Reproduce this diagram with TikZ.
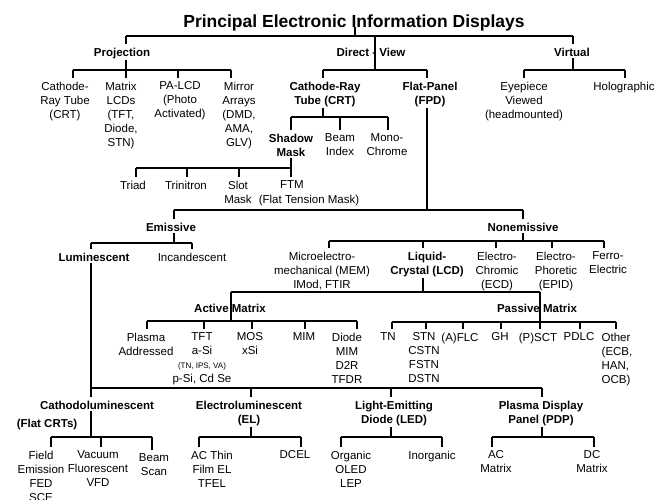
\documentclass[tikz,border=0pt]{standalone}
\usepackage{fontspec}
\setmainfont{Liberation Sans}
\usepackage{tikz}
\tikzset{
  wire/.style={draw=black, line width=1.6pt},
  drop/.style={wire, shorten >=2.5pt},
  lab/.style={anchor=north, align=center, inner xsep=0pt, inner ysep=1.5pt, font=\fontsize{11.5}{14}\selectfont},
  labb/.style={lab, font=\fontsize{11.5}{14}\selectfont\bfseries},
  labs/.style={font=\fontsize{8}{10}\selectfont},
  ttl/.style={anchor=base, inner sep=0pt, font=\fontsize{17.5}{20}\selectfont\bfseries},
}
\begin{document}
\begin{tikzpicture}[x=1pt,y=-1pt]
  \useasboundingbox (0,0) rectangle (663,499);
  % bracket points
  \coordinate (t-title) at (355,36);
  \coordinate (t-proj) at (126,36);
  \coordinate (t-dv) at (375,36);
  \coordinate (t-virt) at (573,36);
  \coordinate (b-proj) at (126,70);
  \coordinate (d-crtp) at (73,70);
  \coordinate (d-pa) at (178,70);
  \coordinate (d-mirr) at (231,70);
  \coordinate (b-dv) at (375,70);
  \coordinate (d-crt) at (323,70);
  \coordinate (d-fpd) at (427,70);
  \coordinate (b-virt) at (573,70);
  \coordinate (d-eye) at (524,70);
  \coordinate (d-holo) at (625,70);
  \coordinate (b-crt) at (323,117);
  \coordinate (d-smask) at (291,117);
  \coordinate (d-bidx) at (340,117);
  \coordinate (d-mono) at (388,117);
  \coordinate (b-sm) at (291,168);
  \coordinate (d-triad) at (136,168);
  \coordinate (d-trin) at (187,168);
  \coordinate (d-slot) at (239,168);
  \coordinate (b-fpd) at (427,210);
  \coordinate (d-emis) at (174,210);
  \coordinate (d-nonem) at (523,210);
  \coordinate (b-emis) at (174,243);
  \coordinate (d-lumi) at (91,243);
  \coordinate (d-incan) at (192,243);
  \coordinate (b-nonem) at (523,241);
  \coordinate (d-mem) at (329,241);
  \coordinate (d-lcd) at (423,241);
  \coordinate (d-ecd) at (496,241);
  \coordinate (d-epid) at (552,241);
  \coordinate (d-ferro) at (604,241);
  \coordinate (b-lcd) at (423,292);
  \coordinate (d-am) at (231,292);
  \coordinate (d-pm) at (540,292);
  \coordinate (b-am) at (231,321);
  \coordinate (d-plasa) at (147,321);
  \coordinate (d-tft) at (204,321);
  \coordinate (d-mos) at (252,321);
  \coordinate (d-mim) at (305,321);
  \coordinate (d-diode) at (357,321);
  \coordinate (b-pm) at (540,322);
  \coordinate (d-tn) at (392,322);
  \coordinate (d-stn) at (426,322);
  \coordinate (d-flc) at (463,322);
  \coordinate (d-gh) at (501,322);
  \coordinate (d-pdlc) at (580,322);
  \coordinate (d-other) at (616,322);
  \coordinate (b-lumi) at (91,388);
  \coordinate (d-el) at (251,388);
  \coordinate (d-led) at (391,388);
  \coordinate (d-pdp) at (542,388);
  \coordinate (b-cath) at (91,437);
  \coordinate (d-field) at (51,437);
  \coordinate (d-vac) at (101,437);
  \coordinate (d-bscan) at (152,437);
  \coordinate (b-el) at (251,437);
  \coordinate (d-ac) at (199,437);
  \coordinate (d-dcel) at (301,437);
  \coordinate (b-led) at (391,437);
  \coordinate (d-org) at (341,437);
  \coordinate (d-inorg) at (442,437);
  \coordinate (b-pdp) at (542,437);
  \coordinate (d-acm) at (492,437);
  \coordinate (d-dcm) at (594,437);

  % labels
  \node[ttl] (title) at (354,27) {Principal Electronic Information Displays};
  \node[labb] (proj) at (122,46) {Projection};
  \node[labb] (dv) at (371,46) {Direct - View};
  \node[labb] (virt) at (572,46) {Virtual};
  \node[lab] (crtp) at (65,80) {Cathode-\\Ray Tube\\(CRT)};
  \node[lab] (mlcd) at (121,80) {Matrix\\LCDs\\(TFT,\\Diode,\\STN)};
  \node[lab] (palcd) at (180,80) {PA-LCD\\(Photo\\Activated)};
  \node[lab] (mirr) at (239,80) {Mirror\\Arrays\\(DMD,\\AMA,\\GLV)};
  \node[labb] (crt) at (325,80) {Cathode-Ray\\Tube (CRT)};
  \node[labb] (fpd) at (430,80) {Flat-Panel\\(FPD)};
  \node[lab] (eye) at (524,80) {Eyepiece\\Viewed\\(headmounted)};
  \node[lab] (holo) at (624,80) {Holographic};
  \node[labb] (smask) at (291,132) {Shadow\\Mask};
  \node[lab] (bidx) at (340,132) {Beam\\Index};
  \node[lab] (mono) at (387,132) {Mono-\\Chrome};
  \node[lab] (triad) at (133,179) {Triad};
  \node[lab] (trin) at (186,179) {Trinitron};
  \node[lab] (slot) at (238,179) {Slot\\Mask};
  \node[lab] (ftm) at (292,179) {FTM};
  \node[lab] (ftmx) at (309,193) {(Flat Tension Mask)};
  \node[labb] (emis) at (171,221) {Emissive};
  \node[labb] (nonem) at (523,221) {Nonemissive};
  \node[labb] (lumi) at (94,251) {Luminescent};
  \node[lab] (incan) at (192,251) {Incandescent};
  \node[lab] (mem) at (322,250) {Microelectro-\\mechanical (MEM)\\IMod, FTIR};
  \node[labb] (lcd) at (427,250) {Liquid-\\Crystal (LCD)};
  \node[lab] (ecd) at (497,250) {Electro-\\Chromic\\(ECD)};
  \node[lab] (epid) at (556,250) {Electro-\\Phoretic\\(EPID)};
  \node[lab] (ferro) at (608,250) {Ferro-\\Electric};
  \node[labb] (am) at (230,302) {Active Matrix};
  \node[labb] (pm) at (537,302) {Passive Matrix};
  \node[lab] (plasa) at (146,331) {Plasma\\Addressed};
  \node[lab] (tft) at (202,331) {TFT\\a-Si\\{\fontsize{8}{10}\selectfont(TN, IPS, VA)}\\p-Si, Cd Se};
  \node[lab] (mos) at (250,331) {MOS\\xSi};
  \node[lab] (mim) at (304,331) {MIM};
  \node[lab] (diode) at (347,331) {Diode\\MIM\\D2R\\TFDR};
  \node[lab] (tn) at (388,331) {TN};
  \node[lab] (stn) at (424,331) {STN\\CSTN\\FSTN\\DSTN};
  \node[lab] (flc) at (460,331) {(A)FLC};
  \node[lab] (gh) at (500,331) {GH};
  \node[lab] (psct) at (538,331) {(P)SCT};
  \node[lab] (pdlc) at (579,331) {PDLC};
  \node[lab, align=left] (other) at (617,331) {Other\\(ECB,\\HAN,\\OCB)};
  \node[labb] (cath) at (97,399) {Cathodoluminescent};
  \node[labb] (flatcrt) at (47,417) {(Flat CRTs)};
  \node[labb] (el) at (249,399) {Electroluminescent\\(EL)};
  \node[labb] (led) at (394,399) {Light-Emitting\\Diode (LED)};
  \node[labb] (pdp) at (541,399) {Plasma Display\\Panel (PDP)};
  \node[lab] (field) at (41,449) {Field\\Emission\\FED\\SCE};
  \node[lab] (vac) at (98,449) {Vacuum\\Fluorescent\\VFD};
  \node[lab] (bscan) at (154,452) {Beam\\Scan};
  \node[lab] (acthin) at (212,449) {AC Thin\\Film EL\\TFEL};
  \node[lab] (dcel) at (295,449) {DCEL};
  \node[lab] (org) at (351,449) {Organic\\OLED\\LEP};
  \node[lab] (inorg) at (432,449) {Inorganic};
  \node[lab] (acm) at (496,449) {AC\\Matrix};
  \node[lab] (dcm) at (592,449) {DC\\Matrix};

  % top level
  \draw[wire] (t-title |- title.base) -- (t-title);
  \draw[wire] (t-proj) -- (t-virt);
  \draw[drop] (t-proj) -- (t-proj |- proj.north);
  \draw[wire] (t-dv) -- (b-dv);
  \draw[drop] (t-virt) -- (t-virt |- virt.north);
  % projection
  \draw[wire] (b-proj |- proj.south) -- (b-proj);
  \draw[wire] (d-crtp) -- (d-mirr);
  \draw[drop] (d-crtp) -- (d-crtp |- crtp.north);
  \draw[drop] (b-proj) -- (b-proj |- mlcd.north);
  \draw[drop] (d-pa) -- (d-pa |- palcd.north);
  \draw[drop] (d-mirr) -- (d-mirr |- mirr.north);
  % direct view
  \draw[wire] (d-crt) -- (d-fpd);
  \draw[drop] (d-crt) -- (d-crt |- crt.north);
  \draw[drop] (d-fpd) -- (d-fpd |- fpd.north);
  % virtual
  \draw[wire] (b-virt |- virt.south) -- (b-virt);
  \draw[wire] (d-eye) -- (d-holo);
  \draw[drop] (d-eye) -- (d-eye |- eye.north);
  \draw[drop] (d-holo) -- (d-holo |- holo.north);
  % CRT
  \draw[wire] (b-crt |- crt.south) -- (b-crt);
  \draw[wire] (d-smask) -- (d-mono);
  \draw[drop] (d-smask) -- (d-smask |- smask.north);
  \draw[drop] (d-bidx) -- (d-bidx |- bidx.north);
  \draw[drop] (d-mono) -- (d-mono |- mono.north);
  % shadow mask
  \draw[wire] (b-sm |- smask.south) -- (b-sm);
  \draw[wire] (d-triad) -- (b-sm);
  \draw[drop] (d-triad) -- (d-triad |- triad.north);
  \draw[drop] (d-trin) -- (d-trin |- trin.north);
  \draw[drop] (d-slot) -- (d-slot |- slot.north);
  \draw[drop] (b-sm) -- (b-sm |- ftm.north);
  % flat panel
  \draw[wire] (b-fpd |- fpd.south) -- (b-fpd);
  \draw[wire] (d-emis) -- (d-nonem);
  \draw[drop] (d-emis) -- (d-emis |- emis.north);
  \draw[drop] (d-nonem) -- (d-nonem |- nonem.north);
  % emissive
  \draw[wire] (b-emis |- emis.south) -- (b-emis);
  \draw[wire] (d-lumi) -- (d-incan);
  \draw[drop] (d-lumi) -- (d-lumi |- lumi.north);
  \draw[drop] (d-incan) -- (d-incan |- incan.north);
  % nonemissive
  \draw[wire] (b-nonem |- nonem.south) -- (b-nonem);
  \draw[wire] (d-mem) -- (d-ferro);
  \draw[drop] (d-mem) -- (d-mem |- mem.north);
  \draw[drop] (d-lcd) -- (d-lcd |- lcd.north);
  \draw[drop] (d-ecd) -- (d-ecd |- ecd.north);
  \draw[drop] (d-epid) -- (d-epid |- epid.north);
  \draw[drop] (d-ferro) -- (d-ferro |- ferro.north);
  % LCD
  \draw[wire] (b-lcd |- lcd.south) -- (b-lcd);
  \draw[wire] (d-am) -- (d-pm);
  \draw[wire] (d-am) -- (b-am);
  \draw[wire] (d-pm) -- (b-pm);
  % active matrix
  \draw[wire] (d-plasa) -- (d-diode);
  \draw[drop] (d-plasa) -- (d-plasa |- plasa.north);
  \draw[drop] (d-tft) -- (d-tft |- tft.north);
  \draw[drop] (d-mos) -- (d-mos |- mos.north);
  \draw[drop] (d-mim) -- (d-mim |- mim.north);
  \draw[drop] (d-diode) -- (d-diode |- diode.north);
  % passive matrix
  \draw[wire] (d-tn) -- (d-other);
  \draw[drop] (d-tn) -- (d-tn |- tn.north);
  \draw[drop] (d-stn) -- (d-stn |- stn.north);
  \draw[drop] (d-flc) -- (d-flc |- flc.north);
  \draw[drop] (d-gh) -- (d-gh |- gh.north);
  \draw[drop] (b-pm) -- (b-pm |- psct.north);
  \draw[drop] (d-pdlc) -- (d-pdlc |- pdlc.north);
  \draw[drop] (d-other) -- (d-other |- other.north);
  % luminescent
  \draw[wire] (b-lumi |- lumi.south) -- (b-lumi);
  \draw[wire] (b-lumi) -- (d-pdp);
  \draw[drop] (b-lumi) -- (b-lumi |- cath.north);
  \draw[drop] (d-el) -- (d-el |- el.north);
  \draw[drop] (d-led) -- (d-led |- led.north);
  \draw[drop] (d-pdp) -- (d-pdp |- pdp.north);
  % cathodoluminescent
  \draw[wire] (b-cath |- cath.south) -- (b-cath);
  \draw[wire] (d-field) -- (d-bscan);
  \draw[drop] (d-field) -- (d-field |- field.north);
  \draw[drop] (d-vac) -- (d-vac |- vac.north);
  \draw[drop] (d-bscan) -- (d-bscan |- bscan.north);
  % EL
  \draw[wire] (b-el |- el.south) -- (b-el);
  \draw[wire] (d-ac) -- (d-dcel);
  \draw[drop] (d-ac) -- (d-ac |- acthin.north);
  \draw[drop] (d-dcel) -- (d-dcel |- dcel.north);
  % LED
  \draw[wire] (b-led |- led.south) -- (b-led);
  \draw[wire] (d-org) -- (d-inorg);
  \draw[drop] (d-org) -- (d-org |- org.north);
  \draw[drop] (d-inorg) -- (d-inorg |- inorg.north);
  % PDP
  \draw[wire] (b-pdp |- pdp.south) -- (b-pdp);
  \draw[wire] (d-acm) -- (d-dcm);
  \draw[drop] (d-acm) -- (d-acm |- acm.north);
  \draw[drop] (d-dcm) -- (d-dcm |- dcm.north);
\end{tikzpicture}
\end{document}
